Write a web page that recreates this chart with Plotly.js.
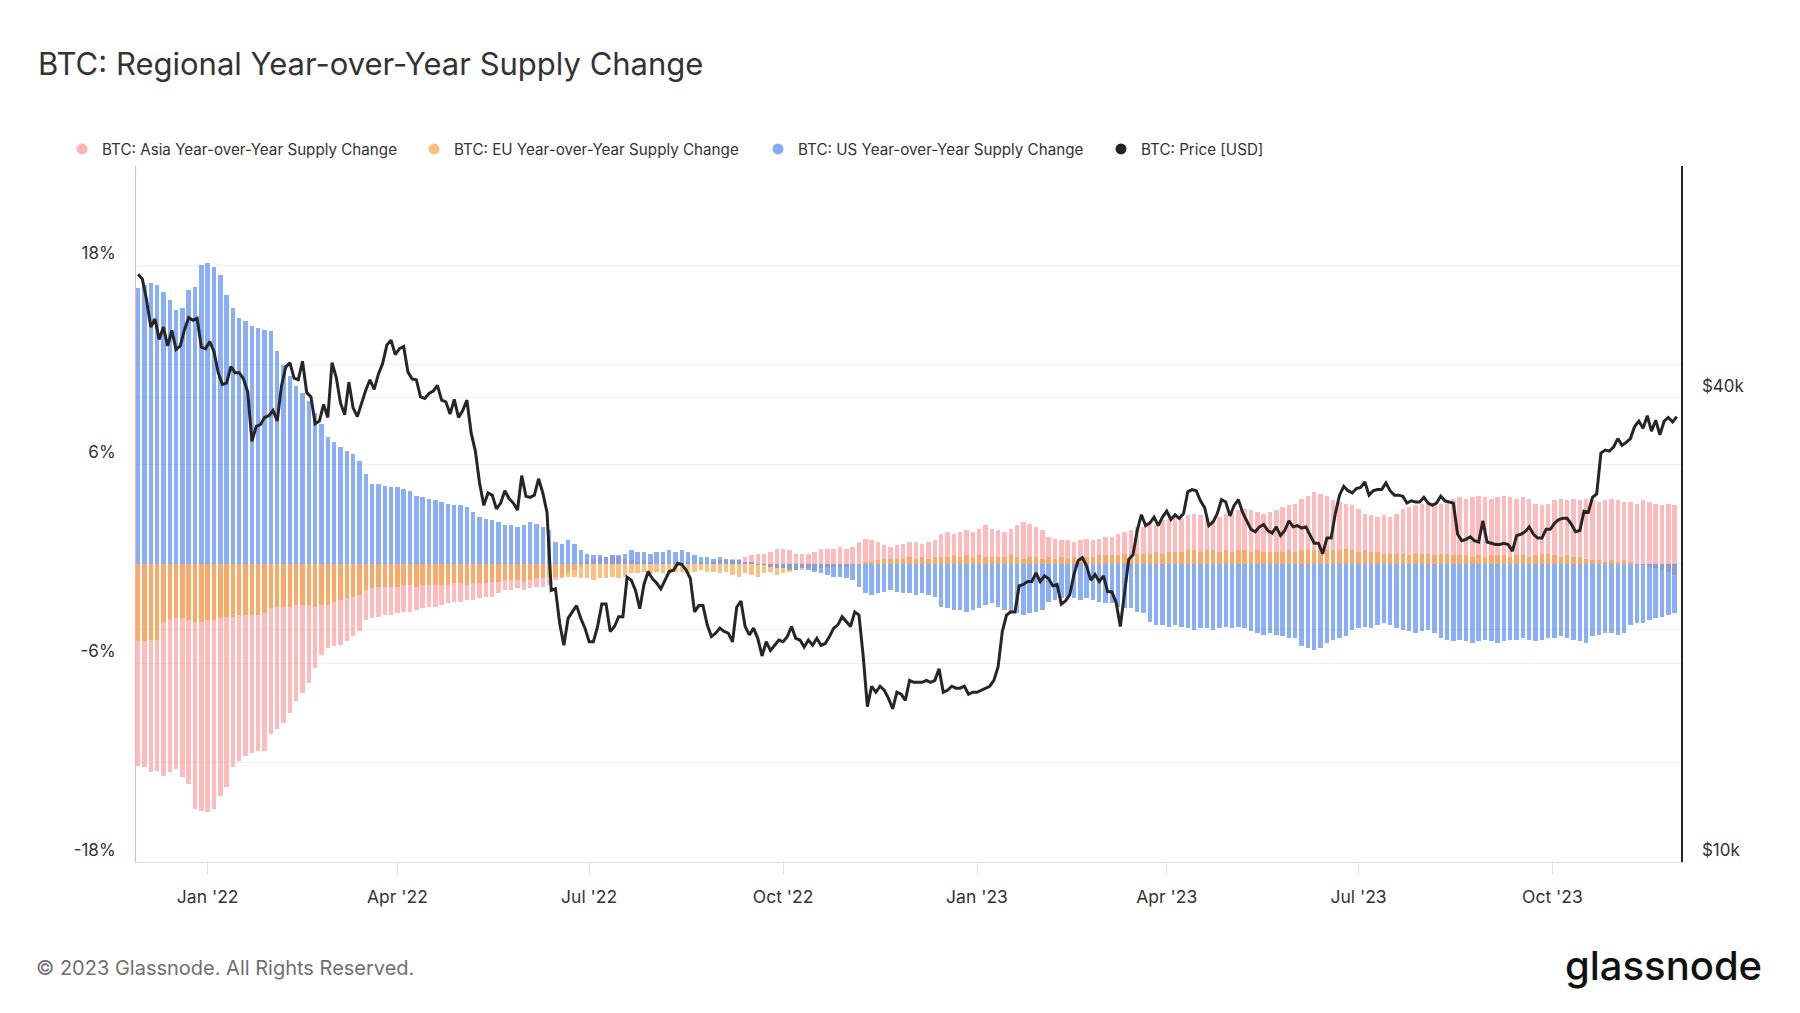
<!DOCTYPE html>
<html>
<head>
<meta charset="utf-8">
<script src="https://cdn.plot.ly/plotly-3.0.1.min.js"></script>
<style>
html,body{margin:0;padding:0;background:#ffffff;}
#chart{width:1800px;height:1013px;}
</style>
</head>
<body>
<div id="chart"></div>
<script>
// ---------- DATA ----------
// Bars: one value every 3 days starting 2021-11-29 (YoY supply change, %)
const barStart = '2021-11-29';
const barStepDays = 3;
const asiaYoY = [
-12.2,-12.3,-12.6,-12.5,-12.8,-12.6,-12.4,-12.9,-13.3,-14.8,
-14.9,-15.0,-14.8,-14.0,-13.5,-12.3,-11.9,-11.6,-11.4,-11.3,
-11.3,-10.3,-10.0,-9.6,-9.0,-8.3,-7.8,-7.2,-6.3,-5.5,
-5.1,-5.0,-4.9,-4.7,-4.4,-4.1,-3.4,-3.3,-3.2,-3.1,
-3.1,-3.0,-2.9,-2.9,-2.8,-2.7,-2.6,-2.6,-2.5,-2.4,
-2.3,-2.3,-2.2,-2.2,-2.1,-2.0,-2.0,-1.8,-1.6,-1.6,
-1.5,-1.6,-1.5,-1.4,-1.4,-1.3,-1.0,-0.8,-0.6,-0.4,
-0.2,0.2,0.3,0.4,0.4,0.5,0.4,0.3,0.2,0.1,
0.2,0.1,0.0,0.1,0.0,-0.1,0.0,0.1,0.0,0.1,
0.0,0.1,0.2,0.2,0.3,0.3,0.4,0.5,0.6,0.6,
0.7,0.9,0.9,0.8,0.6,0.6,0.6,0.7,0.9,0.9,
0.9,1.0,0.9,1.0,1.3,1.5,1.4,1.3,1.1,1.0,
1.1,1.2,1.3,1.3,1.2,1.3,1.4,1.8,1.9,1.8,
1.9,2.0,1.9,2.1,2.3,2.1,2.0,1.9,2.1,2.3,
2.5,2.4,2.2,2.0,1.6,1.5,1.4,1.4,1.3,1.4,
1.5,1.4,1.5,1.6,1.6,1.8,1.9,2.0,2.2,2.2,
2.3,2.3,2.6,2.7,2.8,2.7,2.9,3.0,2.9,2.7,
2.6,2.8,3.0,3.1,3.2,3.3,3.2,3.1,3.0,3.1,
3.2,3.4,3.5,3.6,3.9,4.1,4.3,4.2,4.1,3.8,
3.7,3.6,3.5,3.3,3.0,2.9,2.8,2.9,2.8,3.0,
3.3,3.4,3.5,3.6,3.6,3.5,3.6,3.7,3.9,4.0,
3.9,4.0,4.1,4.0,3.9,4.0,4.1,4.0,3.9,4.0,
3.9,3.6,3.5,3.6,3.8,3.9,3.8,3.9,3.8,3.9,
3.8,3.7,3.8,3.9,3.8,3.7,3.7,3.6,3.8,3.7,
3.6,3.5,3.6,3.5
];
const euYoY = [
-4.7,-4.7,-4.6,-4.6,-3.5,-3.4,-3.3,-3.3,-3.4,-3.5,
-3.5,-3.4,-3.4,-3.3,-3.2,-3.2,-3.1,-3.1,-3.1,-3.1,
-3.0,-2.7,-2.6,-2.6,-2.6,-2.5,-2.5,-2.5,-2.6,-2.5,
-2.5,-2.3,-2.2,-2.1,-2.0,-1.9,-1.6,-1.5,-1.4,-1.4,
-1.4,-1.4,-1.3,-1.3,-1.4,-1.3,-1.3,-1.3,-1.3,-1.3,
-1.2,-1.2,-1.3,-1.2,-1.2,-1.2,-1.1,-1.1,-1.0,-1.0,
-1.0,-1.1,-1.0,-0.9,-0.9,-0.8,-0.8,-0.9,-0.8,-0.8,
-0.9,-0.9,-1.0,-0.9,-0.9,-0.8,-0.9,-0.8,-0.6,-0.6,
-0.5,-0.6,-0.5,-0.6,-0.6,-0.5,-0.5,-0.6,-0.5,-0.4,
-0.5,-0.5,-0.6,-0.5,-0.7,-0.8,-0.6,-0.7,-0.8,-0.6,
-0.5,-0.7,-0.6,-0.5,-0.4,-0.4,-0.3,-0.4,-0.3,-0.2,
-0.2,-0.2,-0.2,-0.1,0.0,0.1,0.1,0.2,0.3,0.3,
0.3,0.3,0.4,0.3,0.4,0.3,0.4,0.4,0.4,0.5,
0.4,0.5,0.4,0.5,0.4,0.4,0.4,0.4,0.5,0.4,
0.3,0.4,0.4,0.3,0.4,0.3,0.4,0.3,0.4,0.3,
0.4,0.4,0.5,0.5,0.5,0.5,0.6,0.6,0.6,0.6,
0.6,0.7,0.6,0.7,0.7,0.7,0.8,0.8,0.7,0.8,
0.8,0.7,0.8,0.7,0.8,0.8,0.7,0.8,0.7,0.7,
0.7,0.7,0.8,0.7,0.8,0.8,0.8,0.8,0.8,0.8,
0.8,0.9,0.8,0.7,0.8,0.7,0.7,0.6,0.6,0.6,
0.6,0.5,0.6,0.6,0.6,0.5,0.6,0.6,0.5,0.5,
0.5,0.4,0.5,0.4,0.5,0.5,0.5,0.4,0.5,0.5,
0.4,0.5,0.6,0.6,0.5,0.4,0.5,0.4,0.4,0.3,
0.2,0.2,0.1,0.2,0.1,0.2,0.1,0.0,-0.1,-0.2,
-0.3,-0.4,-0.5,-0.7
];
const usYoY = [
16.6,16.8,16.9,16.8,16.4,15.9,15.3,15.4,16.5,16.7,
18.0,18.1,17.9,17.4,16.2,15.4,14.8,14.6,14.3,14.2,
14.1,14.0,12.8,12.0,11.3,10.7,10.3,9.8,9.1,8.4,
7.6,7.3,7.0,6.8,6.6,6.2,5.4,4.8,4.8,4.7,
4.6,4.6,4.5,4.4,4.1,4.0,3.9,3.8,3.7,3.6,
3.5,3.5,3.4,3.1,2.8,2.7,2.6,2.5,2.3,2.3,
2.2,2.3,2.5,2.4,2.2,2.0,1.3,1.2,1.4,1.2,
0.8,0.6,0.5,0.5,0.4,0.5,0.5,0.6,0.8,0.7,
0.7,0.6,0.7,0.7,0.8,0.7,0.8,0.7,0.5,0.4,
0.4,0.3,0.4,0.3,0.2,0.2,0.1,0.1,-0.1,-0.1,
-0.2,-0.3,-0.3,-0.4,-0.4,-0.3,-0.4,-0.5,-0.6,-0.7,
-0.8,-0.8,-0.9,-1.0,-1.4,-1.8,-1.9,-1.8,-1.7,-1.6,
-1.7,-1.8,-1.8,-1.9,-1.8,-1.9,-2.0,-2.6,-2.7,-2.8,
-2.8,-2.9,-2.8,-2.7,-2.5,-2.4,-2.6,-2.8,-2.9,-3.0,
-3.1,-3.0,-2.9,-2.8,-2.3,-2.2,-2.1,-2.0,-2.1,-2.2,
-2.1,-2.2,-2.3,-2.4,-2.4,-2.6,-2.7,-2.7,-2.9,-3.0,
-3.5,-3.7,-3.7,-3.8,-3.7,-3.8,-3.9,-4.0,-3.9,-3.9,
-4.0,-3.9,-3.8,-3.9,-3.8,-3.9,-4.1,-4.2,-4.3,-4.2,
-4.3,-4.4,-4.5,-4.5,-5.0,-5.1,-5.2,-5.1,-4.8,-4.6,
-4.5,-4.4,-4.0,-3.9,-3.8,-3.9,-3.7,-3.6,-3.7,-3.9,
-4.0,-4.1,-4.2,-4.1,-4.0,-4.2,-4.5,-4.6,-4.7,-4.6,
-4.7,-4.8,-4.7,-4.6,-4.7,-4.8,-4.7,-4.6,-4.6,-4.5,
-4.6,-4.7,-4.6,-4.5,-4.5,-4.4,-4.5,-4.6,-4.7,-4.8,
-4.4,-4.3,-4.2,-4.2,-4.3,-4.2,-3.7,-3.6,-3.6,-3.4,
-3.3,-3.2,-3.1,-3.0
];
// Price: one value every 2 days starting 2021-11-29, in thousands of USD
const priceStart = '2021-11-29';
const priceStepDays = 2;
const priceK = [
57.8,57.0,53.6,49.4,50.6,47.6,49.4,46.7,48.9,46.2,46.7,49.0,50.8,50.4,50.7,46.5,46.3,
47.3,45.9,43.1,41.6,41.8,43.9,43.1,43.1,42.3,40.7,35.1,36.7,36.9,37.7,37.9,
38.5,37.3,41.4,43.8,44.4,42.4,42.2,44.6,40.6,40.1,37.0,37.3,39.2,37.7,
44.4,42.5,39.4,38.0,41.9,38.8,37.8,39.3,40.9,42.2,41.0,42.9,44.3,46.8,47.5,45.5,
46.3,46.6,43.2,42.3,42.2,40.1,39.9,40.5,40.8,41.5,39.7,39.5,38.1,39.8,37.7,
38.5,39.7,36.0,34.1,31.0,29.0,30.1,29.9,28.7,29.2,30.3,29.6,29.2,28.6,31.7,
29.8,29.7,29.9,31.4,30.1,28.4,22.5,22.6,20.4,19.1,20.7,21.1,21.5,20.7,20.1,
19.3,19.3,20.2,21.6,21.6,19.9,20.2,20.8,20.8,23.4,23.2,22.5,21.3,22.9,23.8,23.3,
23.0,22.6,23.2,23.8,23.9,24.4,24.3,23.9,23.3,21.1,21.5,21.5,20.3,19.6,19.8,
20.1,19.9,19.8,19.3,21.4,21.8,20.2,19.7,20.1,19.5,18.5,19.3,18.8,19.1,19.4,
19.3,19.6,20.2,19.5,19.4,19.0,19.4,19.1,19.5,19.1,19.2,19.6,20.1,20.3,20.8,20.5,
20.2,21.1,20.9,18.5,15.9,16.9,16.6,16.9,16.7,16.3,15.8,16.6,16.5,16.2,17.2,
17.1,17.1,17.1,17.2,17.1,17.2,17.8,16.6,16.7,16.9,16.8,16.8,16.9,16.5,16.6,
16.6,16.7,16.8,16.9,17.2,17.9,19.9,20.9,21.1,21.1,22.8,22.9,23.1,23.1,23.7,23.1,
23.5,23.3,22.8,22.9,21.6,21.8,22.2,23.6,24.6,24.8,24.2,23.2,23.6,23.1,
23.5,22.4,22.4,21.7,20.2,22.2,24.7,25.0,26.9,28.2,27.3,27.5,28.0,27.3,28.0,
28.5,27.8,28.2,27.9,28.3,30.2,30.4,30.3,29.4,28.8,27.3,27.6,28.3,29.5,29.3,
28.1,29.0,29.5,28.4,27.7,27.0,26.8,27.2,27.4,26.9,26.7,27.2,26.5,26.9,27.7,27.2,
27.3,27.1,27.2,26.5,25.9,25.9,25.1,26.3,26.3,28.3,29.9,30.7,30.3,30.1,30.5,
30.6,31.1,29.9,30.3,30.4,30.4,31.0,30.3,29.9,29.9,29.8,29.2,29.4,29.3,29.3,
29.7,29.2,29.0,29.2,29.8,29.4,29.3,29.2,26.6,26.1,26.2,26.4,26.1,26.0,27.7,26.0,
25.9,25.8,25.8,25.9,25.8,25.3,26.5,26.6,26.8,27.2,26.6,26.3,26.3,27.0,27.0,
27.5,27.8,27.9,27.9,27.4,26.8,26.9,28.5,28.4,29.7,30.0,33.9,34.2,34.1,34.5,
35.4,34.7,35.0,35.4,36.7,37.3,36.5,37.9,36.2,37.4,35.8,37.3,37.7,37.2,37.8
];
const seriesNames = [
  'BTC: Asia Year-over-Year Supply Change',
  'BTC: EU Year-over-Year Supply Change',
  'BTC: US Year-over-Year Supply Change',
  'BTC: Price [USD]'
];
const leftTickVals = [-18,-12,-6,0,6,12,18,24];
const leftTickText = ['-18%','','-6%','','6%','','18%',''];
const rightTickVals = [10,20,40];
const rightTickText = ['$10k','','$40k'];

// ---------- HELPERS ----------
function makeDates(start, step, n){
  const t0 = Date.parse(start + 'T00:00:00Z');
  const out = [];
  for (let i = 0; i < n; i++) out.push(new Date(t0 + i*step*86400000).toISOString().slice(0,10));
  return out;
}
const barDates = makeDates(barStart, barStepDays, asiaYoY.length);
const priceDates = makeDates(priceStart, priceStepDays, priceK.length);

// ---------- STYLE ----------
const C = {
  asiaBar: 'rgba(255,150,150,0.65)',
  euBar: 'rgba(247,160,60,0.65)',
  usBar: 'rgba(90,140,245,0.70)',
  asiaDot: '#ffb3b3', euDot: '#fbc07c', usDot: '#86a9f5', priceDot: '#222222',
  price: '#262626', grid: '#efefef', text: '#333333'
};
const barW = 2.1*86400000;

const legendIds = ['legend','legend2','legend3','legend4'];
const legendX = [62, 414, 758, 1101];   // px from left of page

const traces = [
  {type:'bar', x:barDates, y:asiaYoY, width:barW, marker:{color:C.asiaBar, line:{width:0}}, showlegend:false, hoverinfo:'skip', name:seriesNames[0]},
  {type:'bar', x:barDates, y:euYoY, width:barW, marker:{color:C.euBar, line:{width:0}}, showlegend:false, hoverinfo:'skip', name:seriesNames[1]},
  {type:'bar', x:barDates, y:usYoY, width:barW, marker:{color:C.usBar, line:{width:0}}, showlegend:false, hoverinfo:'skip', name:seriesNames[2]},
  {type:'scatter', mode:'lines', x:priceDates, y:priceK, yaxis:'y2', line:{color:C.price, width:3}, showlegend:false, hoverinfo:'skip', name:seriesNames[3]}
];
const dotColors = [C.asiaDot, C.euDot, C.usDot, C.priceDot];
for (let i = 0; i < 4; i++) {
  traces.push({type:'scatter', mode:'markers', x:[null], y:[null], name:seriesNames[i],
    legend:legendIds[i], marker:{color:dotColors[i], size:11}, hoverinfo:'skip'});
}

const W = 1800, H = 1013;
const L = 136, R = 119, T = 164, B = 151;
const pw = W - L - R, ph = H - T - B;

function legendCfg(px){
  return {orientation:'h', xref:'container', yref:'container', x:px/W, y:1-149/H,
          xanchor:'left', yanchor:'middle', font:{size:15.2, color:C.text}, itemwidth:30,
          bgcolor:'rgba(0,0,0,0)'};
}

const layout = {
  width: W, height: H,
  paper_bgcolor:'#ffffff', plot_bgcolor:'#ffffff',
  font:{family:'Inter, "Noto Sans", sans-serif', color:C.text, size:16},
  margin:{l:L, r:R, t:T, b:B, pad:0},
  title:{text:'BTC: Regional Year-over-Year Supply Change', xref:'container', yref:'container',
         x:38/W, xanchor:'left', y:1-64/H, yanchor:'middle', font:{size:31, color:'#333333'}},
  barmode:'overlay', bargap:0,
  showlegend:true,
  legend:legendCfg(legendX[0]),
  legend2:legendCfg(legendX[1]),
  legend3:legendCfg(legendX[2]),
  legend4:legendCfg(legendX[3]),
  xaxis:{type:'date', range:['2021-11-28','2023-12-01'], tickformat:"%b '%y", dtick:'M3', tick0:'2022-01-01',
         ticks:'outside', ticklen:12, tickcolor:'#e4e4e4', tickwidth:1, showgrid:false,
         showline:true, linecolor:'#dddddd', linewidth:1, zeroline:false,
         tickfont:{size:17.5, color:C.text}, ticklabelstandoff:7},
  yaxis:{range:[-18,24], tickmode:'array', tickvals:leftTickVals, ticktext:leftTickText,
         showgrid:true, gridcolor:C.grid, gridwidth:1, zeroline:false,
         showline:true, linecolor:'#ffb0b0', linewidth:1, ticks:'',
         ticklabelposition:'outside top', ticklabelstandoff:16, tickfont:{size:17, color:C.text}},
  yaxis2:{overlaying:'y', side:'right', type:'log', range:[1, Math.log10(80)],
          tickmode:'array', tickvals:rightTickVals, ticktext:rightTickText,
          showgrid:true, gridcolor:C.grid, gridwidth:1, zeroline:false,
          showline:true, linecolor:'#222222', linewidth:1.5, ticks:'',
          ticklabelposition:'outside top', ticklabelstandoff:16, tickfont:{size:17, color:C.text}},
  annotations:[
    {text:'© 2023 Glassnode. All Rights Reserved.', xref:'paper', yref:'paper',
     x:(34-L)/pw, y:(H-B-968)/ph, xanchor:'left', yanchor:'middle', showarrow:false,
     font:{size:20, color:'#707070'}},
    {text:'glassnode', xref:'paper', yref:'paper',
     x:(1764-L)/pw, y:(H-B-966)/ph, xanchor:'right', yanchor:'middle', showarrow:false,
     font:{size:40, color:'#111111', weight:500}}
  ],
  hovermode:false
};

Plotly.newPlot('chart', traces, layout, {displayModeBar:false, staticPlot:true});
</script>
</body>
</html>
